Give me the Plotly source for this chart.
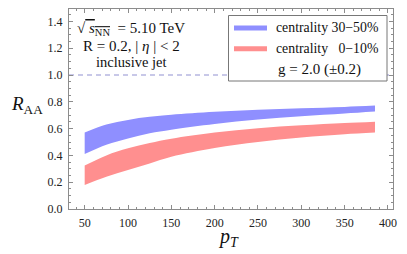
import plotly.graph_objects as go

# ---- data ----
pt = [50, 75, 100, 125, 150, 200, 250, 300, 350, 385]
blue_hi = [0.570, 0.630, 0.665, 0.688, 0.703, 0.725, 0.740, 0.752, 0.762, 0.772]
blue_lo = [0.410, 0.480, 0.527, 0.565, 0.592, 0.635, 0.668, 0.692, 0.712, 0.727]
red_hi = [0.324, 0.400, 0.453, 0.492, 0.524, 0.570, 0.603, 0.625, 0.642, 0.652]
red_lo = [0.179, 0.240, 0.291, 0.340, 0.390, 0.455, 0.500, 0.533, 0.557, 0.570]
ref_x = [31.9, 405.8]
ref_y = [1.0, 1.0]
x_ticks = [50, 100, 150, 200, 250, 300, 350, 400]
y_ticks = [0.0, 0.2, 0.4, 0.6, 0.8, 1.0, 1.2, 1.4]
labels = ["centrality\u00a030\u221250%",
          "centrality\u00a0\u00a0\u00a00\u221210%"]

BLUE = "rgb(143,143,255)"
RED = "rgb(255,143,143)"
SERIF = "Liberation Serif"
TXT = 15
LEG = 13.8

W, H = 407, 254
ML, MR, MT, MB = 61, 22, 1, 53
PW, PH = W - ML - MR, H - MT - MB


def px(x):
    return (x - ML) / PW


def py(y):
    return (H - MB - y) / PH


fig = go.Figure()
for hi, lo, col in [(blue_hi, blue_lo, BLUE), (red_hi, red_lo, RED)]:
    fig.add_trace(go.Scatter(x=pt, y=lo, mode="lines",
                             line=dict(width=0, color=col, shape="spline", smoothing=1.0),
                             hoverinfo="skip", showlegend=False))
    fig.add_trace(go.Scatter(x=pt, y=hi, mode="lines", fill="tonexty", fillcolor=col,
                             line=dict(width=0, color=col, shape="spline", smoothing=1.0),
                             hoverinfo="skip", showlegend=False))

fig.add_trace(go.Scatter(x=ref_x, y=ref_y, mode="lines",
                         line=dict(color="rgb(145,145,210)", width=1.2, dash="5px,4px"),
                         showlegend=False, hoverinfo="skip"))

axis_common = dict(showline=True, mirror="ticks", linecolor="#8c8c8c", linewidth=1,
                   ticks="inside", ticklen=4, tickcolor="#8c8c8c", showgrid=False,
                   zeroline=False, tickfont=dict(family=SERIF, size=12, color="#222"))

fig.update_xaxes(range=[31.9, 405.8], tickvals=x_ticks, ticktext=[str(v) for v in x_ticks],
                 minor=dict(dtick=10, tick0=0, ticks="inside", ticklen=2, tickcolor="#8c8c8c"),
                 ticklabelstandoff=3, **axis_common)
fig.update_yaxes(range=[0, 1.4925], tickvals=y_ticks, ticktext=[f"{v:.1f}" for v in y_ticks],
                 minor=dict(dtick=0.05, tick0=0, ticks="inside", ticklen=2, tickcolor="#8c8c8c"),
                 ticklabelstandoff=3, **axis_common)

shapes = []
ann = []
# legend box
shapes.append(dict(type="rect", xref="paper", yref="paper",
                   x0=px(220.5), x1=px(379), y0=py(73), y1=py(7.5),
                   line=dict(color="#777", width=1), fillcolor="white", layer="above"))
for yy, col, lab in [(20, BLUE, labels[0]), (40.7, RED, labels[1])]:
    shapes.append(dict(type="line", xref="paper", yref="paper",
                       x0=px(226), x1=px(259), y0=py(yy), y1=py(yy),
                       line=dict(color=col, width=5), layer="above"))
    ann.append(dict(x=px(266), y=py(yy), xref="paper", yref="paper", text=lab,
                    showarrow=False, xanchor="left", yanchor="middle",
                    font=dict(family=SERIF, size=LEG, color="#111")))
ann.append(dict(x=px(311), y=py(61.5), xref="paper", yref="paper",
                text="g = 2.0 (\u00b10.2)", showarrow=False, xanchor="center", yanchor="middle",
                font=dict(family=SERIF, size=15, color="#111")))

# top-left text
ann.append(dict(x=px(123), y=py(20.5), xref="paper", yref="paper",
                text="\u221a<span style='text-decoration:overline'>\u00a0<i>s</i><sub>NN</sub></span>\u00a0\u00a0= 5.10 TeV",
                showarrow=False, xanchor="center", yanchor="middle",
                font=dict(family=SERIF, size=TXT, color="#111")))
ann.append(dict(x=px(123), y=py(38), xref="paper", yref="paper",
                text="R = 0.2, | <i>\u03b7</i> | < 2", showarrow=False,
                xanchor="center", yanchor="middle",
                font=dict(family=SERIF, size=TXT, color="#111")))
ann.append(dict(x=px(123), y=py(54.5), xref="paper", yref="paper",
                text="inclusive jet", showarrow=False, xanchor="center", yanchor="middle",
                font=dict(family=SERIF, size=14.5, color="#111")))

# axis titles
ann.append(dict(x=px(19), y=py(97), xref="paper", yref="paper",
                text="<i>R</i><sub>AA</sub>", showarrow=False, xanchor="center", yanchor="middle",
                font=dict(family=SERIF, size=19, color="#111")))
ann.append(dict(x=px(220), y=py(229), xref="paper", yref="paper",
                text="<i>p</i><sub><i>T</i></sub>", showarrow=False, xanchor="center", yanchor="middle",
                font=dict(family=SERIF, size=20, color="#111")))

fig.update_layout(width=W, height=H, margin=dict(l=ML, r=MR, t=MT, b=MB),
                  paper_bgcolor="white", plot_bgcolor="white",
                  font=dict(family=SERIF),
                  shapes=shapes, annotations=ann, showlegend=False)

fig.write_html("out.html")
